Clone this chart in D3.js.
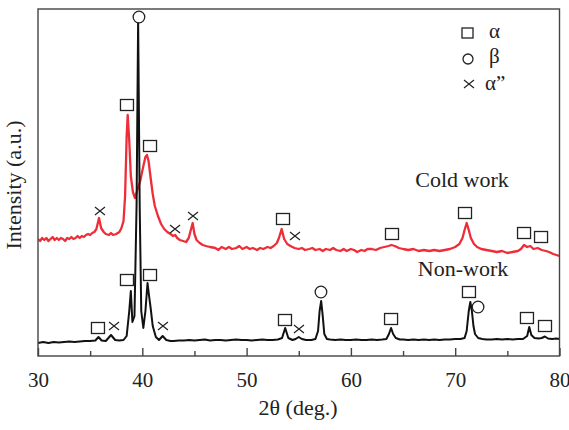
<!DOCTYPE html>
<html><head><meta charset="utf-8">
<script src="https://cdn.jsdelivr.net/npm/d3@7/dist/d3.min.js"></script>
<style>body{margin:0;background:#fff}svg{display:block}text{font-family:"Liberation Serif","Times New Roman",serif !important;fill:#222}</style>
</head><body><svg id="c" width="569" height="430"></svg>
<script>
// ---- data ----
const nonWorkX = [30,30.5,31,31.5,32,32.5,33,33.5,34,34.5,35,35.5,35.8,36.1,36.5,37,37.4,37.8,38.2,38.5,38.75,38.9,39.05,39.25,39.45,39.6,39.75,39.9,40.1,40.3,40.5,40.65,40.8,41,41.3,41.6,41.95,42.3,42.7,43,43.5,44,44.5,45,45.5,46,46.5,47,47.5,48,48.5,49,49.5,50,50.5,51,51.5,52,52.5,53,53.4,53.7,54,54.4,54.7,55,55.3,55.7,56.2,56.6,56.85,57,57.15,57.3,57.45,57.7,58,58.5,59,59.5,60,60.5,61,61.5,62,62.5,63,63.4,63.65,63.85,64.05,64.3,64.7,65,65.5,66,66.5,67,67.5,68,68.5,69,69.5,70,70.5,70.9,71.1,71.3,71.45,71.6,71.75,71.9,72.2,72.6,73,73.5,74,74.5,75,75.5,76,76.5,76.9,77.1,77.3,77.6,78,78.3,78.6,78.9,79.3,79.7,80];
const nonWorkY = [13,14,13,14,13.5,14,14.5,14,14.5,15,15,15.5,19,15.5,15,21,16,15.5,16,20,45,65,34,40,150,336,150,45,28,45,73,60,48,30,19,16,20,16,15,15,15.5,15.5,16,15.5,16,16.5,15.5,16,16,15.5,16,16.5,16,16,15.5,16,16.5,16,16,16.5,18,28,18,16,17,19,17,16,16,17,25,45,55,40,22,17,16.5,16,16.5,16,16,16.5,16,16,16.5,16,16.5,17,22,28,22,18,16.5,16.5,16,16.5,16,16.5,16,16.5,16,16.5,16.5,17,17,18,25,45,54,45,30,22,18,17,16.5,16.5,17,16.5,17,16.5,17,17,20,29,21,18,17.5,18,19.5,17.5,17,17.5,17];
const coldWorkX = [30,30.2,30.4,30.6,30.8,31,31.2,31.4,31.6,31.8,32,32.2,32.4,32.6,32.8,33,33.2,33.4,33.6,33.8,34,34.2,34.4,34.6,34.8,35,35.2,35.4,35.6,35.85,36.05,36.3,36.5,36.8,37,37.2,37.5,37.8,38,38.2,38.35,38.5,38.6,38.75,38.9,39.1,39.3,39.5,39.8,40.1,40.3,40.45,40.6,40.8,41,41.2,41.5,41.8,42.1,42.4,42.7,42.95,43.15,43.35,43.6,43.9,44.2,44.45,44.65,44.83,45,45.2,45.5,45.8,46.1,46.5,47,47.3,47.6,48,48.3,48.6,49,49.3,49.6,50,50.3,50.6,51,51.3,51.6,52,52.3,52.6,52.9,53.1,53.36,53.6,53.9,54.2,54.6,55,55.3,55.6,56,56.3,56.6,57,57.3,57.6,58,58.3,58.6,59,59.3,59.6,60,60.3,60.6,61,61.3,61.6,62,62.4,62.8,63.2,63.6,63.9,64.2,64.6,65,65.5,66,66.5,67,67.5,68,68.5,69,69.5,70,70.4,70.7,70.9,71.1,71.3,71.5,71.8,72.1,72.5,73,73.5,74,74.5,75,75.5,76,76.3,76.6,76.9,77.2,77.5,77.9,78.3,78.7,79,79.4,79.7,80];
const coldWorkY = [117,115,118,116,118,115,117,119,116,118,116,118,117,115,118,117,119,117,118,120,118,120,119,121,122,121,123,124,127,138,128,124,122,121,123,121,122,124,128,135,160,220,241,215,180,164,158,165,175,190,199,201,195,178,162,150,140,132,127,124,122,120,121,118,116,115,114,118,126,133,122,116,113,111,110,109,108,106,109,107,109,107,108,110,107,109,107,108,106,108,107,109,108,110,113,118,127,117,112,110,108,107,108,106,107,108,106,107,105,107,106,108,106,105,107,105,107,106,104,106,105,107,107,106,108,109,110,111,110,108,107,106,107,105,106,105,106,105,106,107,109,112,118,126,133,126,118,112,109,107,106,105,104,105,103,104,105,107,111,109,110,107,108,106,105,104,102,101,100];
// annotation markers: type, 2θ, intensity
const markType = ["x","sq","sq","ci","x","x","sq","x","sq","sq","sq","sq","sq","x","sq","sq","x","sq","x","ci","sq","sq","ci","sq","sq"];
const markX = [35.94,38.53,40.74,39.68,43.14,44.86,53.49,54.64,63.94,70.94,76.6,78.23,35.75,37.29,38.53,40.74,41.98,53.68,55.02,57.13,63.85,71.32,72.19,76.88,78.61];
const markY = [145,251,210,339,127,140,137,120,122,143,123,119,28,30,76,81,30,36,27,64,37,64,49,38,30];
const seriesLabels = ["Cold work","Non-work"];
const labelX = [70.65,70.75];
const labelY = [169,80];
const legendSymbols = ["sq","ci","x"];
const legendLabels = ["α","β","α”"];
const xTicks = [30,40,50,60,70,80];
const xMinor = [35,45,55,65,75];

// ---- drawing ----
const svg = d3.select("#c");
const SERIF = '"Liberation Serif","Times New Roman",serif';
const L=38,R=559.5,T=9,B=356;
const x = d3.scaleLinear().domain([30,80]).range([L,R]);
const y = d3.scaleLinear().domain([0,347]).range([B,T]);

svg.append("clipPath").attr("id","cp").append("rect").attr("x",L).attr("y",T).attr("width",R-L).attr("height",B-T);

const line = d3.line().x(d=>x(d[0])).y(d=>y(d[1]));
const cold = coldWorkX.map((v,i)=>[v,coldWorkY[i]]);
const non = nonWorkX.map((v,i)=>[v,nonWorkY[i]]);
svg.append("path").attr("d",line(cold)).attr("fill","none").attr("stroke","#ee2d38").attr("stroke-width",2.3).attr("stroke-linejoin","round").attr("clip-path","url(#cp)");
svg.append("path").attr("d",line(non)).attr("fill","none").attr("stroke","#111").attr("stroke-width",2).attr("stroke-linejoin","round").attr("clip-path","url(#cp)");

function drawSym(g,t,cx,cy,s){
  if(t==="sq"){g.append("rect").attr("x",cx-s.w/2).attr("y",cy-s.h/2).attr("width",s.w).attr("height",s.h).attr("fill","#fff").attr("stroke","#222").attr("stroke-width",1.3);}
  else if(t==="ci"){g.append("circle").attr("cx",cx).attr("cy",cy).attr("r",s.r).attr("fill","#fff").attr("stroke","#222").attr("stroke-width",1.3);}
  else {const a=s.cw/2,b=s.ch/2;g.append("path").attr("d",`M${cx-a},${cy-b}L${cx+a},${cy+b}M${cx-a},${cy+b}L${cx+a},${cy-b}`).attr("stroke","#222").attr("stroke-width",1.2).attr("fill","none");}
}
const mg = svg.append("g");
const big = {w:13,h:11,r:5.8,cw:10,ch:8};
markType.forEach((t,i)=>drawSym(mg,t,x(markX[i]),y(markY[i]),big));

// series labels
seriesLabels.forEach((s,i)=>svg.append("text").attr("x",x(labelX[i])).attr("y",y(labelY[i])).attr("text-anchor","middle").style("font-family",SERIF).style("font-size","22px").text(s));

// legend
const small = {w:11,h:10,r:5,cw:10,ch:8};
const lg = svg.append("g");
const legSymX=[467.5,468,469], legSymY=[33,59,84], legTxtX=[489,489,485], legTxtY=[38,63,90];
legendSymbols.forEach((t,i)=>{
  drawSym(lg,t,legSymX[i],legSymY[i],small);
  lg.append("text").attr("x",legTxtX[i]).attr("y",legTxtY[i]).style("font-family",SERIF).style("font-size","21px").text(legendLabels[i]);
});

// frame
svg.append("rect").attr("x",L).attr("y",T).attr("width",R-L).attr("height",B-T).attr("fill","none").attr("stroke","#444").attr("stroke-width",1.4);

// x axis ticks (inward)
const ax = svg.append("g").attr("transform",`translate(0,${B})`);
ax.call(d3.axisBottom(x).tickValues(xTicks).tickSize(-8).tickPadding(16).tickFormat(d3.format("d")));
ax.attr("font-family",null).attr("font-size",null);
ax.select(".domain").remove();
ax.selectAll(".tick line").attr("stroke","#444").attr("stroke-width",1.4);
ax.selectAll(".tick text").style("font-family",SERIF).style("font-size","21px").attr("fill","#222");
const axm = svg.append("g").attr("transform",`translate(0,${B})`);
axm.call(d3.axisBottom(x).tickValues(xMinor).tickSize(-5).tickFormat(""));
axm.select(".domain").remove();
axm.selectAll(".tick line").attr("stroke","#444").attr("stroke-width",1.4);

// titles
svg.append("text").attr("x",298).attr("y",415).attr("text-anchor","middle").style("font-family",SERIF).style("font-size","22px").text("2θ (deg.)");
svg.append("text").attr("transform","translate(21,185) rotate(-90)").attr("text-anchor","middle").style("font-family",SERIF).style("font-size","22px").text("Intensity (a.u.)");
</script></body></html>
